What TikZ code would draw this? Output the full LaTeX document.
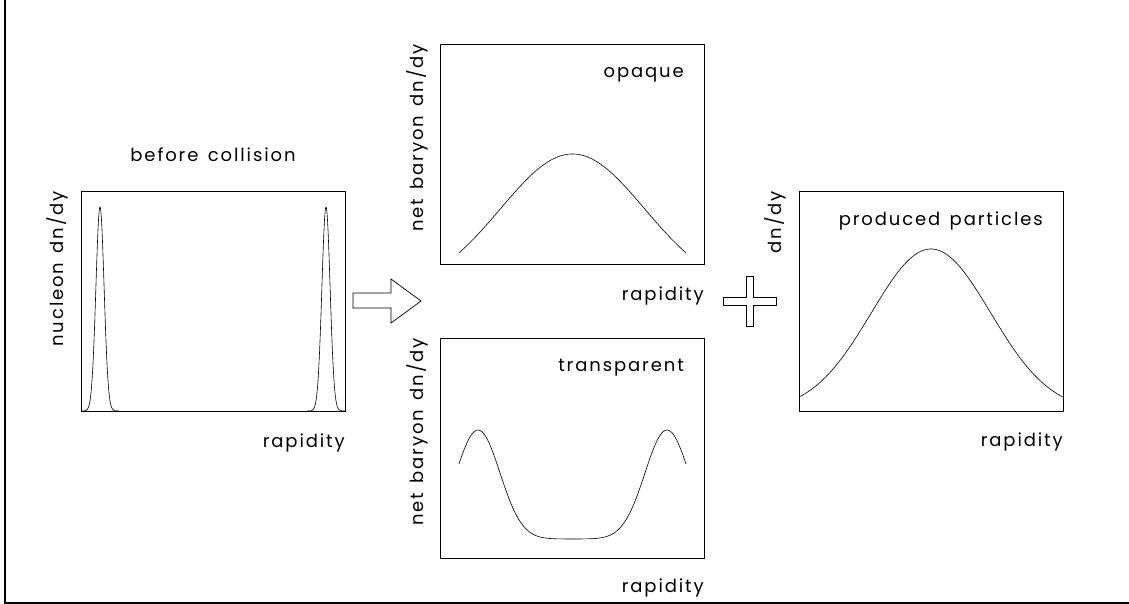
\documentclass[tikz,border=0pt]{standalone}
\usepackage{fontspec}
\setmainfont{Poppins}[LetterSpace=10.5,WordSpace=1.4]
\begin{document}
\begin{tikzpicture}[x=1pt,y=-1pt,
  lbl/.style={inner sep=0pt,font=\fontsize{18}{21}\selectfont},
  ylbl/.style={lbl,rotate=90,anchor=east},
  xlbl/.style={lbl,anchor=east},
  panel/.style={draw,line width=0.7pt},
  curve/.style={line width=0.6pt,smooth},
  outl/.style={draw,line width=0.7pt}]
\useasboundingbox (0,0) rectangle (1129,604);
% frame
\draw[line width=1.4pt] (5,0) -- (5,603) -- (1129,603);

% panel 1: before collision
\draw[panel] (81,191) rectangle (345,411);
\node[lbl] (t1) at (213,155) {before collision};
\node[ylbl] (y1) at (57,191) {nucleon dn/dy};
\node[xlbl] (x1) at (345,443) {rapidity};
\draw[curve] plot[domain=81:119,samples=120] (\x,{411-204*exp(-0.5*((\x-100)/4.1)^2)});
\draw[curve] plot[domain=307:345,samples=120] (\x,{411-204*exp(-0.5*((\x-326)/4.1)^2)});

% arrow
\draw[outl] (353,293) -- (391,293) -- (391,279) -- (421,301) -- (391,323) -- (391,308) -- (353,308) -- cycle;

% panel 2: opaque
\draw[panel] (440,44) rectangle (704,264);
\node[lbl,anchor=east] (t2) at (684,75) {opaque};
\node[ylbl] (y2) at (417,44) {net baryon dn/dy};
\node[xlbl] (x2) at (704,296) {rapidity};
\draw[curve] plot[domain=459:686,samples=80] (\x,{293-139*exp(-0.5*((\x-572.5)/72)^2)});

% panel 3: transparent
\draw[panel] (440,338) rectangle (704,558);
\node[lbl,anchor=east] (t3) at (684,368) {transparent};
\node[ylbl] (y3) at (417,338) {net baryon dn/dy};
\node[xlbl] (x3) at (704,588) {rapidity};
\draw[curve] plot[domain=459:686,samples=120] (\x,{539-109*exp(-0.5*((\x-478)/22)^2)-109*exp(-0.5*((\x-667)/22)^2)});

% plus
\draw[outl] (723,297) -- (746,297) -- (746,276) -- (753,276) -- (753,297) -- (776,297) -- (776,305) -- (753,305) -- (753,326) -- (746,326) -- (746,305) -- (723,305) -- cycle;

% panel 4: produced particles
\draw[panel] (799,191) rectangle (1063,411);
\node[lbl,anchor=east] (t4) at (1043,221) {produced particles};
\node[ylbl] (y4) at (775,191) {dn/dy};
\node[xlbl] (x4) at (1063,442) {rapidity};
\draw[curve] plot[domain=799:1063,samples=90] (\x,{411-162*exp(-0.5*((\x-931)/59.6)^2)});
\end{tikzpicture}
\end{document}
